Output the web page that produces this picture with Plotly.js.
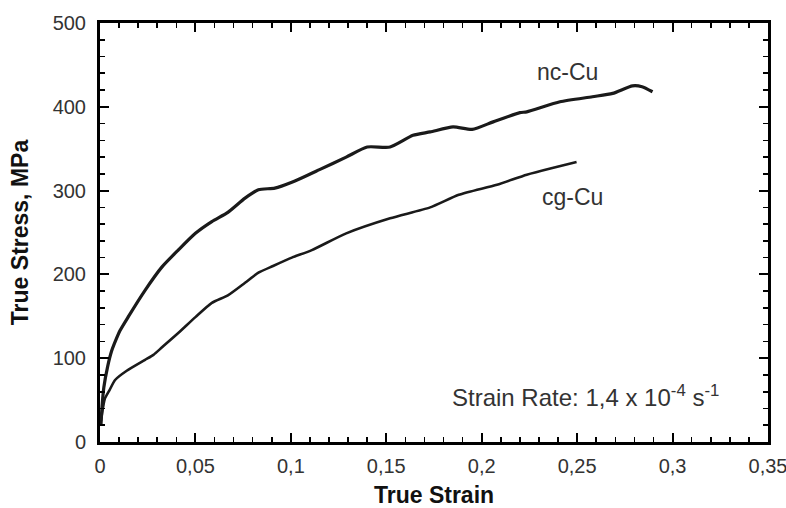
<!DOCTYPE html>
<html>
<head>
<meta charset="utf-8">
<script src="https://cdn.plot.ly/plotly-3.0.1.min.js"></script>
<style>html,body{margin:0;padding:0;background:#fff;}#chart{width:786px;height:508px;}</style>
</head>
<body>
<div id="chart"></div>
<script>
// nc-Cu (nanocrystalline) true stress-strain
const ncStrain = [0.0005, 0.001, 0.002, 0.004, 0.006, 0.008, 0.0105, 0.0147, 0.0236, 0.0325, 0.041, 0.050, 0.0586, 0.067, 0.076, 0.083, 0.0916, 0.1005, 0.115, 0.129, 0.140, 0.152, 0.164, 0.173, 0.185, 0.195, 0.206, 0.220, 0.2236, 0.241, 0.258, 0.2686, 0.279, 0.284, 0.2895];
const ncStress = [20, 40, 65, 90, 108, 120, 133, 149, 181, 209, 229, 249, 263, 274, 291, 301, 303, 310, 325, 340, 352, 352, 366, 370, 376, 373, 382, 393, 394, 406, 412, 416, 425, 424, 418];
// cg-Cu (coarse-grained)
const cgStrain = [0.0005, 0.0015, 0.0026, 0.005, 0.0079, 0.014, 0.0236, 0.028, 0.0325, 0.041, 0.050, 0.0586, 0.067, 0.076, 0.083, 0.0906, 0.1005, 0.111, 0.129, 0.152, 0.173, 0.188, 0.208, 0.2236, 0.237, 0.2497];
const cgStress = [25, 40, 52, 62, 74, 85, 98, 104, 113, 130, 149, 166, 175, 190, 202, 210, 220, 229, 249, 267, 280, 295, 307, 319, 327, 334];

// axis ranges and tick steps (labels are produced by Plotly with comma decimals)
const xRange = [0, 0.35];
const yRange = [0, 500];
const xMajorStep = 0.05, xMinorStep = 0.01;
const yMajorStep = 100, yMinorStep = 20;

const fam = 'Liberation Sans, Arial, Helvetica, sans-serif';

const traces = [
  {x: ncStrain, y: ncStress, mode: 'lines', name: 'nc-Cu', line: {color: '#1a1a1a', width: 3.2, shape: 'spline', smoothing: 0.6}},
  {x: cgStrain, y: cgStress, mode: 'lines', name: 'cg-Cu', line: {color: '#1a1a1a', width: 2.6, shape: 'spline', smoothing: 0.6}}
];

const layout = {
  width: 786, height: 508,
  margin: {l: 100, r: 18, t: 23, b: 66},
  paper_bgcolor: '#fff', plot_bgcolor: '#fff',
  showlegend: false,
  separators: ',.',
  font: {family: fam, color: '#222'},
  xaxis: {
    range: xRange, tickmode: 'linear', tick0: 0, dtick: xMajorStep,
    ticks: 'inside', ticklen: 9, tickwidth: 2, tickcolor: '#000',
    showline: true, linewidth: 3, linecolor: '#000', mirror: 'allticks',
    showgrid: false, zeroline: false, automargin: false,
    minor: {dtick: xMinorStep, ticks: 'inside', ticklen: 5, tickwidth: 1.6, tickcolor: '#000'},
    tickfont: {size: 20, color: '#333', family: fam},
    ticklabeloverflow: 'allow', ticklabelstandoff: 4,
    title: {text: '<b>True Strain</b>', font: {size: 23, color: '#111', family: fam}, standoff: 18}
  },
  yaxis: {
    range: yRange, tickmode: 'linear', tick0: 0, dtick: yMajorStep,
    ticks: 'inside', ticklen: 9, tickwidth: 2, tickcolor: '#000',
    showline: true, linewidth: 3, linecolor: '#000', mirror: 'allticks',
    showgrid: false, zeroline: false, automargin: false,
    minor: {dtick: yMinorStep, ticks: 'inside', ticklen: 5, tickwidth: 1.6, tickcolor: '#000'},
    tickfont: {size: 20, color: '#333', family: fam},
    ticklabeloverflow: 'allow', ticklabelstandoff: 7,
    title: {text: '<b>True Stress, MPa</b>', font: {size: 23, color: '#111', family: fam}, standoff: 18}
  },
  annotations: [
    {x: 0.245, y: 441, xref: 'x', yref: 'y', text: 'nc-Cu', showarrow: false, xanchor: 'center', yanchor: 'middle', font: {size: 23, color: '#333', family: fam}},
    {x: 0.2476, y: 292, xref: 'x', yref: 'y', text: 'cg-Cu', showarrow: false, xanchor: 'center', yanchor: 'middle', font: {size: 23, color: '#333', family: fam}},
    {x: 0.2545, y: 55, xref: 'x', yref: 'y', text: 'Strain Rate: 1,4 x 10<sup>-4</sup> s<sup>-1</sup>', showarrow: false, xanchor: 'center', yanchor: 'middle', font: {size: 24, color: '#333', family: fam}}
  ]
};

Plotly.newPlot('chart', traces, layout, {staticPlot: true, displayModeBar: false});
</script>
</body>
</html>
